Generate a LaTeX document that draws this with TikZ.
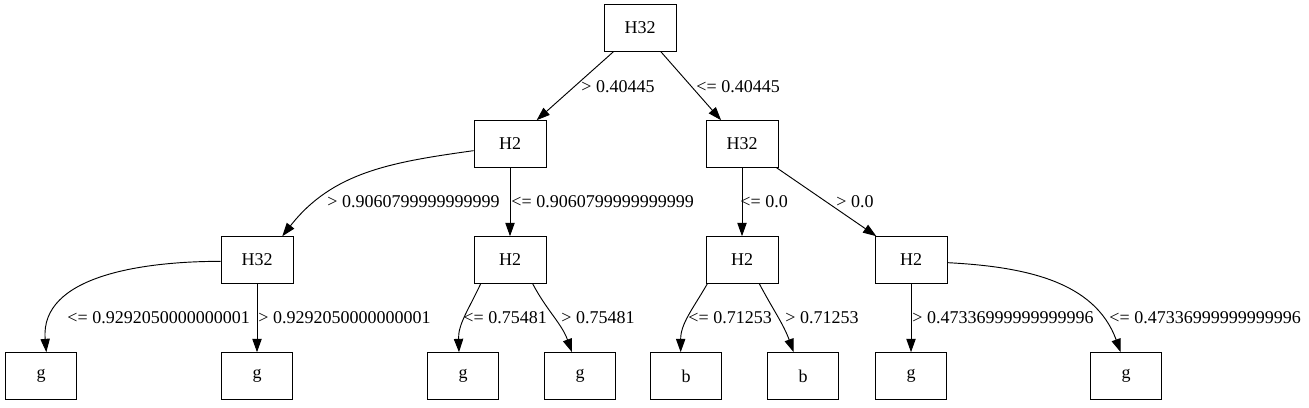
\documentclass[tikz,border=0pt]{standalone}
\usepackage{fontspec}
\setmainfont{Liberation Serif}
\usetikzlibrary{positioning}
\usetikzlibrary{arrows.meta}
\tikzset{
    splitnode/.style = {rectangle, draw=black, line width=0.7pt, minimum width=54pt, minimum height=35pt, inner sep=0pt, font=\fontsize{13.5}{16}\selectfont},
    leafnode/.style = {splitnode, minimum width=53pt},
    edgen/.style = {-{Triangle[length=10pt,width=7pt]}, line width=0.7pt},
    lbl/.style = {anchor=west, inner sep=0pt, font=\fontsize{13.5}{16}\selectfont},
}

\begin{document}
\begin{tikzpicture}[x=0.75pt,y=0.75pt]
\path[use as bounding box] (0,0) rectangle (1309,407);
%
\node[splitnode] at (640,379) (r) {H32};
\node[splitnode] at (510,263) (h2a) {H2};
\node[splitnode] at (742,263) (h32a) {H32};
\node[splitnode] at (257,147) (h32b) {H32};
\node[splitnode] at (510,147) (h2b) {H2};
\node[splitnode] at (742,147) (h2c) {H2};
\node[splitnode] at (911,147) (h2d) {H2};
%
\node[leafnode] at (41,31) (g1) {g};
\node[leafnode] at (257,31) (g2) {g};
\node[leafnode] at (463,31) (g3) {g};
\node[leafnode] at (580,31) (g4) {g};
\node[leafnode] at (686,31) (b1) {b};
\node[leafnode] at (803,31) (b2) {b};
\node[leafnode] at (911,31) (g5) {g};
\node[leafnode] at (1126,31) (g6) {g};
%
\draw[edgen] (r) -- (h2a) node[lbl] (t1) at (581,320) {> 0.40445};
\draw[edgen] (r) -- (h32a) node[lbl] (t2) at (696,320) {<= 0.40445};
\draw[edgen] ([yshift=-5pt]h2a.west) to[out=188,in=52] ([xshift=19pt]h32b.north)
    node[lbl] (t3) at (327,205) {> 0.9060799999999999};
\draw[edgen] (h2a) -- (h2b) node[lbl] (t4) at (511,205) {<= 0.9060799999999999};
\draw[edgen] (h32a) -- (h2c) node[lbl] (t5) at (740,205) {<= 0.0};
\draw[edgen] (h32a) -- (h2d) node[lbl] (t6) at (836,205) {> 0.0};
%
\draw[edgen] ([yshift=-1pt]h32b.west) to[out=180,in=95] ([xshift=4pt]g1.north)
    node[lbl] (t7) at (67,89) {<= 0.9292050000000001};
\draw[edgen] (h32b) -- (g2) node[lbl] (t8) at (258,89) {> 0.9292050000000001};
\draw[edgen] ([xshift=-22pt]h2b.south) to[out=245,in=92] ([xshift=-3pt]g3.north)
    node[lbl] (t9) at (463,89) {<= 0.75481};
\draw[edgen] ([xshift=17pt]h2b.south) to[out=-62,in=110] ([xshift=-6pt]g4.north)
    node[lbl] (t10) at (561,89) {> 0.75481};
\draw[edgen] ([xshift=-26pt]h2c.south) to[out=240,in=90] ([xshift=-4pt]b1.north)
    node[lbl] (t11) at (688,89) {<= 0.71253};
\draw[edgen] ([xshift=13pt]h2c.south) to[out=-62,in=110] ([xshift=-7pt]b2.north)
    node[lbl] (t12) at (785,89) {> 0.71253};
\draw[edgen] (h2d) -- (g5) node[lbl] (t13) at (912,89) {> 0.47336999999999996};
\draw[edgen] ([yshift=-2pt]h2d.east) to[out=-3,in=110] ([xshift=-4pt]g6.north)
    node[lbl] (t14) at (1109,89) {<= 0.47336999999999996};

\end{tikzpicture}
\end{document}
